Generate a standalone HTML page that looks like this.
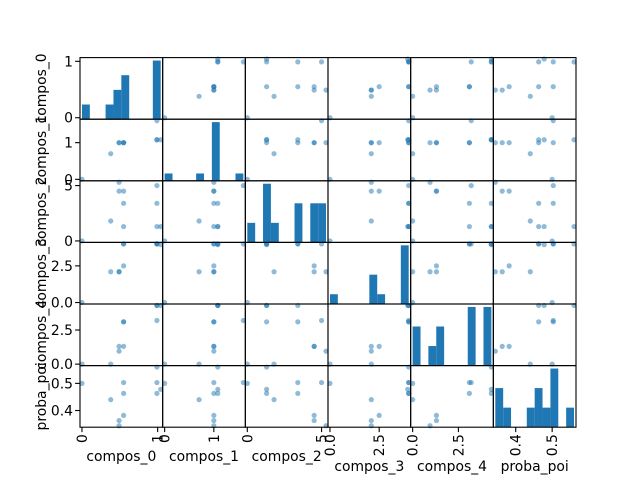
<!DOCTYPE html>
<html><head><meta charset="utf-8"><style>
body{margin:0;background:#fff}
svg{display:block;font-family:"DejaVu Sans","Liberation Sans",sans-serif}
</style></head><body>
<svg id="chart" width="640" height="480" viewBox="0 0 640 480"></svg>
<script>
const varNames = ["compos_0","compos_1","compos_2","compos_3","compos_4","proba_poi"];
const compos0 = [0, 0.38, 0.49, 0.49, 0.55, 0.55, 0.55, 0.99, 0.99, 0.99, 1.04];
const compos1 = [0, 0.7, 1.0, 1.0, 1.0, 1.0, 1.0, 1.08, 1.6, 1.08, 1.08];
const compos2 = [0, 1.8, 4.5, 5.3, 3.4, 1.3, 4.5, 1.3, 5.0, 3.4, 1.3];
const compos3 = [0, 2.1, 2.1, 2.1, 4.0, 4.0, 2.5, 4.0, 4.0, 4.0, 3.95];
const compos4 = [0, 0, 1.3, 0.95, 3.1, 3.1, 1.3, 4.3, 3.2, 4.3, 4.3];
const probaPoi = [0.50, 0.44, 0.363, 0.344, 0.503, 0.463, 0.382, 0.56, 0.503, 0.463, 0.478];
const tickValues = [[0,1],[0,1],[0,5],[0,2.5],[0,2.5],[0.4,0.5]];
const tickLabels = [["0","1"],["0","1"],["0","5"],["0.0","2.5"],["0.0","2.5"],["0.4","0.5"]];

const data = [compos0, compos1, compos2, compos3, compos4, probaPoi];
const NS = "http://www.w3.org/2000/svg";
const svg = document.getElementById("chart");
const L = 80, R = 576, T = 57.6, B = 427.2, n = data.length;
const cw = (R - L) / n, ch = (B - T) / n;
const color = "#1f77b4";

function mk(tag, attrs, parent) {
  const e = document.createElementNS(NS, tag);
  for (const k in attrs) e.setAttribute(k, attrs[k]);
  (parent || svg).appendChild(e);
  return e;
}
const ranges = data.map(a => {
  const mn = Math.min(...a), mx = Math.max(...a), d = (mx - mn) * 0.025;
  return [mn - d, mx + d, mn, mx];
});
function xScale(j, v) { const r = ranges[j]; return L + j * cw + (v - r[0]) / (r[1] - r[0]) * cw; }
function yScale(i, v) { const r = ranges[i]; return T + (i + 1) * ch - (v - r[0]) / (r[1] - r[0]) * ch; }

for (let i = 0; i < n; i++) {
  for (let j = 0; j < n; j++) {
    const g = mk("g", {});
    
    
    const x0 = L + j * cw, y0 = T + i * ch;
    if (i === j) {
      const [, , mn, mx] = ranges[j];
      const bins = new Array(10).fill(0), w = (mx - mn) / 10;
      data[j].forEach(v => { let b = Math.floor((v - mn) / w); if (b > 9) b = 9; if (b < 0) b = 0; bins[b]++; });
      const maxC = Math.max(...bins);
      bins.forEach((c, b) => {
        if (!c) return;
        const xa = xScale(j, mn + b * w), xb = xScale(j, mn + (b + 1) * w);
        const hh = c / (maxC * 1.05) * ch;
        const r = mk("rect", {x: xa, y: y0 + ch - hh, width: xb - xa, height: hh, fill: color}, g);
        
        
      });
    } else {
      data[j].forEach((v, k) => {
        const c = mk("circle", {cx: xScale(j, v), cy: yScale(i, data[i][k]), r: 2.6, fill: color, "fill-opacity": 0.5}, g);
        
        
      });
    }
    const fr = mk("rect", {x: x0, y: y0, width: cw, height: ch, fill: "none", stroke: "#000", "stroke-width": 1.1}, g);
    
    
  }
}
for (let i = 0; i < n; i++) {
  tickValues[i].forEach((v, k) => {
    const y = yScale(i, v);
    mk("line", {x1: L - 4.9, x2: L, y1: y, y2: y, stroke: "#000", "stroke-width": 1.1});
    const t = mk("text", {x: L - 7, y: y + 5, "text-anchor": "end", "font-size": 13.9, fill: "#000"});
    t.textContent = tickLabels[i][k];
    
    
  });
  const yl = T + (i + 0.5) * ch;
  const t = mk("text", {x: 0, y: 0, transform: `translate(46,${yl}) rotate(-90)`, "text-anchor": "middle", "font-size": 13.9, fill: "#000"});
  t.textContent = varNames[i];
  
  
}
for (let j = 0; j < n; j++) {
  let maxLen = 0;
  tickValues[j].forEach((v, k) => {
    const x = xScale(j, v);
    mk("line", {x1: x, x2: x, y1: B, y2: B + 4.9, stroke: "#000", "stroke-width": 1.1});
    const t = mk("text", {x: 0, y: 0, transform: `translate(${x + 5},${B + 7}) rotate(-90)`, "text-anchor": "end", "font-size": 13.9, fill: "#000"});
    t.textContent = tickLabels[j][k];
    
    
    maxLen = Math.max(maxLen, tickLabels[j][k].length);
  });
  const ty = maxLen > 1 ? 471 : 461;
  const t = mk("text", {x: L + (j + 0.5) * cw, y: ty, "text-anchor": "middle", "font-size": 13.9, fill: "#000"});
  t.textContent = varNames[j];
  
  
}
</script>
</body></html>
